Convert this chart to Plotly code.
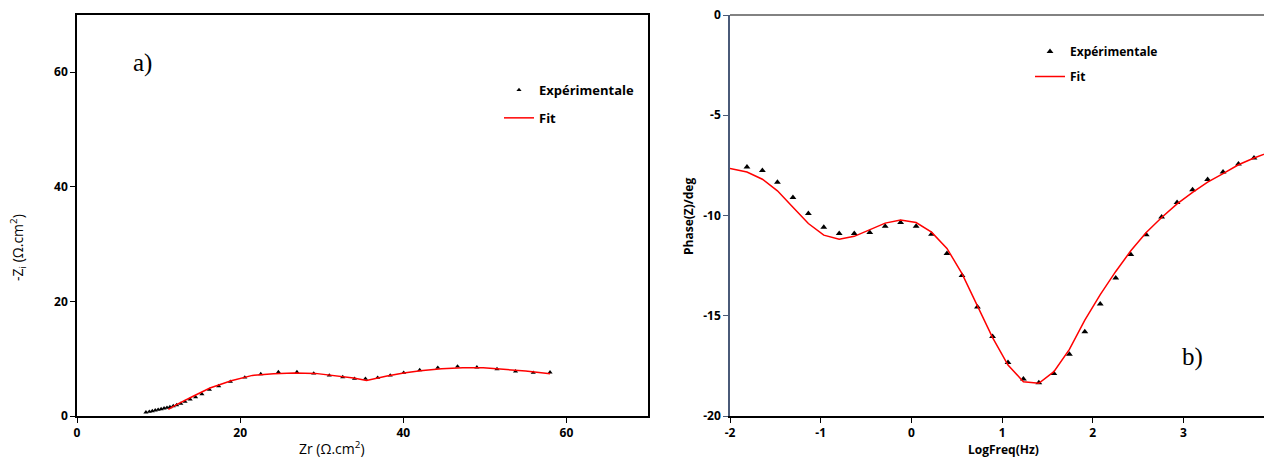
import plotly.graph_objects as go

# ---------- Data: panel a) Nyquist ----------
zr_exp = [8.45, 8.87, 9.23, 9.59, 9.95, 10.31, 10.67, 11.03, 11.39, 11.80, 12.22, 12.73,
          13.25, 13.87, 14.54, 15.31, 16.24, 17.37, 18.81, 20.57, 22.53, 24.69, 26.96,
          29.02, 30.93, 32.58, 34.02, 35.36, 36.86, 38.40, 40.05, 42.01, 44.23, 46.65,
          49.02, 51.49, 53.76, 55.93, 57.99]
zi_exp = [0.64, 0.76, 0.87, 0.99, 1.10, 1.22, 1.34, 1.45, 1.57, 1.74, 1.92, 2.15,
          2.50, 2.91, 3.31, 3.84, 4.59, 5.23, 5.99, 6.74, 7.33, 7.67, 7.67,
          7.44, 7.09, 6.80, 6.51, 6.51, 6.69, 7.09, 7.56, 8.02, 8.43, 8.66,
          8.49, 8.20, 7.79, 7.56, 7.62]
zr_fit = [11.2, 12.2, 14.3, 16.3, 18.9, 21.5, 24.1, 26.6, 29.2, 31.8, 33.9, 35.5,
          36.4, 38.0, 40.05, 42.1, 44.7, 47.3, 49.8, 52.4, 55.0, 58.0]
zi_fit = [1.16, 1.98, 3.49, 4.88, 6.16, 7.09, 7.38, 7.50, 7.44, 7.03, 6.63, 6.22,
          6.51, 6.98, 7.50, 7.91, 8.26, 8.43, 8.43, 8.20, 7.85, 7.38]

# ---------- Data: panel b) Bode phase ----------
logf_exp = [-1.813, -1.643, -1.477, -1.306, -1.136, -0.966, -0.796, -0.630, -0.459,
            -0.289, -0.119, 0.052, 0.222, 0.392, 0.558, 0.728, 0.895, 1.065, 1.235,
            1.405, 1.571, 1.742, 1.912, 2.082, 2.253, 2.419, 2.589, 2.759, 2.929,
            3.100, 3.266, 3.436, 3.606, 3.777, 3.947]
phase_exp = [-7.58, -7.76, -8.34, -9.10, -9.90, -10.58, -10.90, -10.90, -10.85,
             -10.53, -10.35, -10.53, -10.93, -11.89, -12.99, -14.56, -16.04, -17.33,
             -18.16, -18.34, -17.88, -16.92, -15.80, -14.41, -13.12, -11.94, -10.96,
             -10.07, -9.35, -8.72, -8.21, -7.83, -7.43, -7.13, -6.87]
logf_fit = [-2.0, -1.813, -1.643, -1.477, -1.306, -1.136, -0.966, -0.796, -0.630,
            -0.459, -0.289, -0.119, 0.052, 0.222, 0.392, 0.558, 0.728, 0.895, 1.065,
            1.235, 1.405, 1.571, 1.742, 1.912, 2.082, 2.253, 2.419, 2.589, 2.759,
            2.929, 3.100, 3.266, 3.436, 3.606, 3.777, 3.947]
phase_fit = [-7.66, -7.83, -8.19, -8.77, -9.59, -10.40, -10.98, -11.18, -11.04,
             -10.70, -10.38, -10.23, -10.35, -10.83, -11.64, -12.90, -14.48, -16.09,
             -17.46, -18.29, -18.37, -17.79, -16.68, -15.22, -13.95, -12.79, -11.76,
             -10.85, -10.10, -9.42, -8.85, -8.33, -7.91, -7.47, -7.13, -6.85]

# ---------- Tick labels ----------
a_x_ticks = [0, 20, 40, 60]
a_y_ticks = [0, 20, 40, 60]
b_x_ticks = [-2, -1, 0, 1, 2, 3]
b_x_text = ["-2", "-1", "0", "1", "2", "3"]
b_y_ticks = [0, -5, -10, -15, -20]
b_y_text = ["0", "-5", "-10", "-15", "-20"]

W, H = 1272, 457
OFF = 8  # page body margin offset
def px(x): return (x - OFF) / W
def py(y): return 1 - (y - OFF) / H

TICKFONT = dict(family="Open Sans", size=12, color="black", weight="bold")
LEGFONT_A = dict(family="Open Sans", size=13, color="black", weight="bold")
LEGFONT_B = dict(family="Open Sans", size=12, color="black", weight="bold")

fig = go.Figure()

# Panel a
fig.add_trace(go.Scatter(x=zr_exp, y=zi_exp, mode="markers", name="Expérimentale",
                         marker=dict(symbol="triangle-up", size=4.5, color="black"),
                         xaxis="x", yaxis="y", legend="legend", legendgroup="a1"))
fig.add_trace(go.Scatter(x=zr_fit, y=zi_fit, mode="lines", name="Fit",
                         line=dict(color="#FF0000", width=1.5),
                         xaxis="x", yaxis="y", legend="legend", legendgroup="a2"))
# Panel b
fig.add_trace(go.Scatter(x=logf_exp, y=phase_exp, mode="markers", name="Expérimentale",
                         marker=dict(symbol="triangle-up", size=6, color="black"),
                         xaxis="x2", yaxis="y2", legend="legend2", legendgroup="b1"))
fig.add_trace(go.Scatter(x=logf_fit, y=phase_fit, mode="lines", name="Fit",
                         line=dict(color="#FF0000", width=1.5),
                         xaxis="x2", yaxis="y2", legend="legend2", legendgroup="b2"))

# right panel: -2 at 730px, 90.7 px per unit; domain runs to figure edge
b_right_px = W + OFF
b_xmax = -2 + (b_right_px - 730) / 90.7

ydom = [py(416), py(15)]
common = dict(showgrid=False, zeroline=False, automargin=False, tickfont=TICKFONT,
              ticks="outside", ticklen=5, tickmode="array",
              ticklabeloverflow="allow")
fig.update_layout(
    width=W, height=H,
    margin=dict(l=0, r=0, t=0, b=0, autoexpand=False),
    paper_bgcolor="white", plot_bgcolor="white",
    xaxis=dict(domain=[px(77), px(648)], range=[0, 70], tickvals=a_x_ticks,
               tickcolor="black", showline=True, linecolor="black", linewidth=1.5,
               mirror=True, anchor="y", **common),
    yaxis=dict(domain=ydom, range=[0, 70], tickvals=a_y_ticks, tickcolor="black",
               showline=True, linecolor="black", linewidth=1.5, mirror=True,
               anchor="x", **common),
    xaxis2=dict(domain=[px(730), 1.0], range=[-2, b_xmax], tickvals=b_x_ticks,
                ticktext=b_x_text, tickcolor="black", showline=True,
                linecolor="black", linewidth=1.5, anchor="y2", **common),
    yaxis2=dict(domain=ydom, range=[-20, 0], tickvals=b_y_ticks, ticktext=b_y_text,
                tickcolor="#4A5A78", showline=True, linecolor="#4A5A78",
                linewidth=1.5, anchor="x2", **common),
    legend=dict(x=px(499), y=py(75), xanchor="left", yanchor="top",
                bgcolor="rgba(0,0,0,0)", font=LEGFONT_A, itemwidth=30,
                tracegroupgap=8),
    legend2=dict(x=px(1030), y=py(37), xanchor="left", yanchor="top",
                 bgcolor="rgba(0,0,0,0)", font=LEGFONT_B, itemwidth=30,
                 tracegroupgap=6),
    shapes=[dict(type="line", xref="x2 domain", yref="y2 domain", x0=0, x1=1,
                 y0=1, y1=1, line=dict(color="#595959", width=1.5))],
    annotations=[
        dict(text="a)", x=px(131), y=py(63), xref="paper", yref="paper",
             xanchor="left", yanchor="middle", showarrow=False,
             font=dict(family="Liberation Serif", size=25, color="black")),
        dict(text="b)", x=px(1180), y=py(357), xref="paper", yref="paper",
             xanchor="left", yanchor="middle", showarrow=False,
             font=dict(family="Liberation Serif", size=25, color="black")),
        dict(text="Zr (Ω.cm<sup>2</sup>)", x=px(332), y=py(448), xref="paper",
             yref="paper", xanchor="center", yanchor="middle", showarrow=False,
             font=dict(family="Open Sans", size=14, color="black")),
        dict(text="-Z<sub>i</sub> (Ω.cm<sup>2</sup>)", x=px(18), y=py(248),
             xref="paper", yref="paper", xanchor="center", yanchor="middle",
             textangle=-90, showarrow=False,
             font=dict(family="Open Sans", size=14, color="black")),
        dict(text="LogFreq(Hz)", x=px(1003), y=py(449), xref="paper", yref="paper",
             xanchor="center", yanchor="middle", showarrow=False,
             font=dict(family="Open Sans", size=12, color="black", weight="bold")),
        dict(text="Phase(Z)/deg", x=px(688), y=py(217), xref="paper", yref="paper",
             xanchor="center", yanchor="middle", textangle=-90, showarrow=False,
             font=dict(family="Open Sans", size=12, color="black", weight="bold")),
    ],
)

fig.write_html("out.html")
